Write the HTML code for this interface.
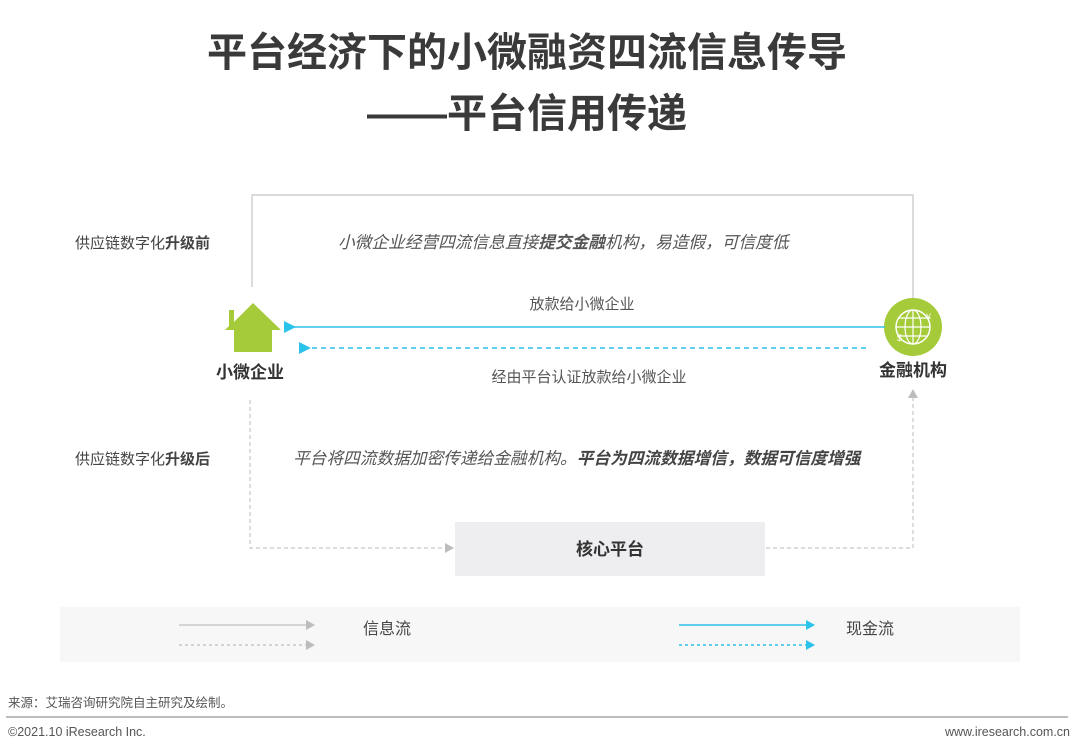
<!DOCTYPE html>
<html><head><meta charset="utf-8">
<style>
html,body{margin:0;padding:0;background:#fff;}
svg{display:block;}
text{font-family:"Liberation Sans","Noto Sans CJK SC",sans-serif;}
</style></head>
<body>
<svg width="1080" height="752" viewBox="0 0 1080 752" xmlns="http://www.w3.org/2000/svg">
<defs>
<marker id="ag" markerWidth="10" markerHeight="10" refX="8" refY="5" orient="auto" markerUnits="userSpaceOnUse"><path d="M0,0 L9,5 L0,10 Z" fill="#bdbdbd"/></marker>
<marker id="ac" markerWidth="12" markerHeight="12" refX="2" refY="6" orient="auto" markerUnits="userSpaceOnUse"><path d="M12,0 L0,6 L12,12 Z" fill="#2cc3ea"/></marker>
<marker id="acr" markerWidth="10" markerHeight="10" refX="8" refY="5" orient="auto" markerUnits="userSpaceOnUse"><path d="M0,0 L9,5 L0,10 Z" fill="#2cc3ea"/></marker>
</defs>

<text x="527" y="66" text-anchor="middle" font-size="40" font-weight="bold" fill="#3a3a3a">平台经济下的小微融资四流信息传导</text>
<text x="527" y="127" text-anchor="middle" font-size="40" font-weight="bold" fill="#3a3a3a">——平台信用传递</text>

<polyline points="252,287 252,195 913,195 913,315" fill="none" stroke="#c4c4c4" stroke-width="1.2" marker-end="url(#ag)"/>

<text x="75" y="248" font-size="15" fill="#444">供应链数字化<tspan font-weight="bold">升级前</tspan></text>
<text x="338" y="248" font-size="16.7" font-style="italic" fill="#555">小微企业经营四流信息直接<tspan font-weight="bold">提交金融</tspan>机构，易造假，可信度低</text>

<path d="M253,303 L281,330 L272,330 L272,352 L234,352 L234,330 L225,330 L229,326 L229,310 L234,310 L234,322 Z" fill="#a5cb3a"/>
<text x="250" y="378" text-anchor="middle" font-size="17" font-weight="bold" fill="#333">小微企业</text>

<circle cx="913" cy="327" r="29" fill="#a5cb3a"/>
<circle cx="913" cy="327" r="17" fill="none" stroke="#fff" stroke-width="1.5"/>
<ellipse cx="913" cy="327" rx="8" ry="17" fill="none" stroke="#fff" stroke-width="1.2"/>
<line x1="896" y1="327" x2="930" y2="327" stroke="#fff" stroke-width="1.2"/>
<line x1="899" y1="318" x2="927" y2="318" stroke="#fff" stroke-width="1.2"/>
<line x1="899" y1="336" x2="927" y2="336" stroke="#fff" stroke-width="1.2"/>
<line x1="913" y1="310" x2="913" y2="344" stroke="#fff" stroke-width="1.2"/>
<text x="926" y="320" font-size="9" fill="#fff">¥</text>
<text x="897" y="341" font-size="9" fill="#fff">$</text>
<text x="913" y="376" text-anchor="middle" font-size="17" font-weight="bold" fill="#333">金融机构</text>

<line x1="885" y1="327" x2="294" y2="327" stroke="#2cc3ea" stroke-width="1.5" marker-end="url(#ac)"/>
<text x="582" y="309" text-anchor="middle" font-size="15" fill="#555">放款给小微企业</text>
<line x1="866" y1="348" x2="309" y2="348" stroke="#2cc3ea" stroke-width="1.5" stroke-dasharray="5,4" marker-end="url(#ac)"/>
<text x="589" y="382" text-anchor="middle" font-size="15" fill="#555">经由平台认证放款给小微企业</text>

<polyline points="250,400 250,548 453,548" fill="none" stroke="#c8c8c8" stroke-width="1.2" stroke-dasharray="4,3" marker-end="url(#ag)"/>
<polyline points="766,548 913,548 913,390" fill="none" stroke="#c8c8c8" stroke-width="1.2" stroke-dasharray="4,3" marker-end="url(#ag)"/>

<text x="75" y="464" font-size="15" fill="#444">供应链数字化<tspan font-weight="bold">升级后</tspan></text>
<text x="293" y="464" font-size="16.7" font-style="italic" fill="#555">平台将四流数据加密传递给金融机构。<tspan font-weight="bold" fill="#444">平台为四流数据增信，数据可信度增强</tspan></text>

<rect x="455" y="522" width="310" height="54" fill="#eeedf0"/>
<text x="610" y="555" text-anchor="middle" font-size="17" font-weight="bold" fill="#333">核心平台</text>

<rect x="60" y="607" width="960" height="55" fill="#f7f7f8"/>
<line x1="179" y1="625" x2="314" y2="625" stroke="#c0c0c0" stroke-width="1.2" marker-end="url(#ag)"/>
<line x1="179" y1="645" x2="314" y2="645" stroke="#c0c0c0" stroke-width="1.2" stroke-dasharray="3,3" marker-end="url(#ag)"/>
<text x="363" y="634" font-size="16" fill="#444">信息流</text>
<line x1="679" y1="625" x2="814" y2="625" stroke="#2cc3ea" stroke-width="1.5" marker-end="url(#acr)"/>
<line x1="679" y1="645" x2="814" y2="645" stroke="#2cc3ea" stroke-width="1.5" stroke-dasharray="3,3" marker-end="url(#acr)"/>
<text x="846" y="634" font-size="16" fill="#444">现金流</text>

<text x="8" y="707" font-size="12.5" fill="#555">来源：艾瑞咨询研究院自主研究及绘制。</text>
<line x1="6" y1="717" x2="1068" y2="717" stroke="#a8a8a8" stroke-width="1.5"/>
<text x="8" y="736" font-size="12.5" fill="#555">©2021.10 iResearch Inc.</text>
<text x="1070" y="736" text-anchor="end" font-size="12.5" fill="#555">www.iresearch.com.cn</text>
</svg>
</body></html>
